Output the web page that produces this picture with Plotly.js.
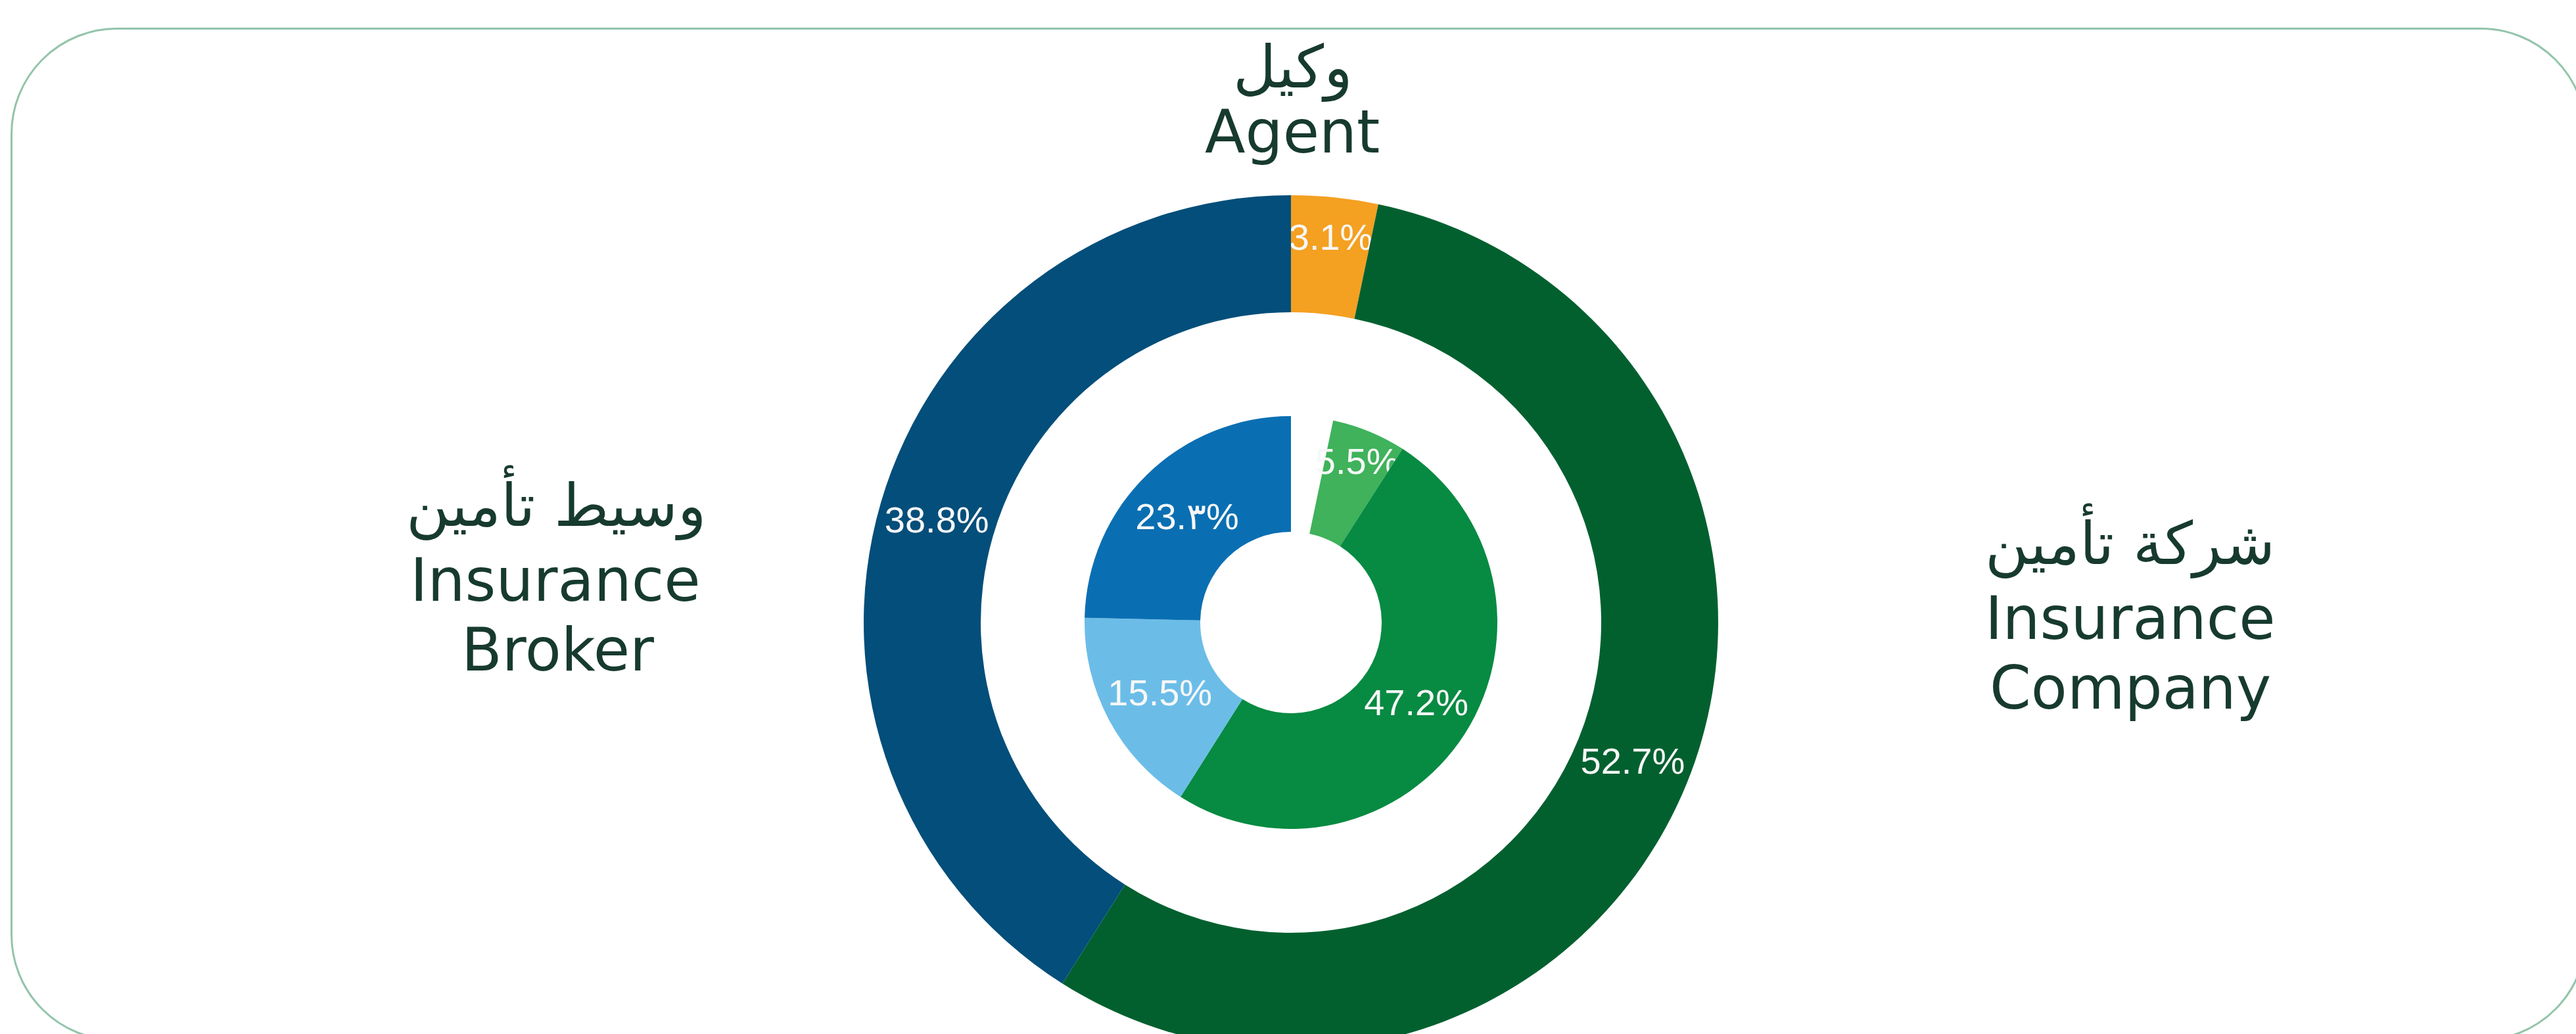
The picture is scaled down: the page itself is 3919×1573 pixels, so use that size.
<!DOCTYPE html>
<html>
<head>
<meta charset="utf-8">
<script src="https://cdn.plot.ly/plotly-3.0.1.min.js"></script>
<style>
  html, body { margin: 0; padding: 0; background: #ffffff; overflow: hidden; width: 3919px; height: 1573px; }
  #frame { position: absolute; left: 16px; top: 42px; width: 3920px; height: 1542px; border: 3px solid #93c4aa; border-radius: 162px; box-sizing: border-box; }
  #chart { position: absolute; left: 0; top: 0; width: 3919px; height: 1700px; }
</style>
</head>
<body>
<div id="frame"></div>
<div id="chart"></div>
<script>
// ---- data ----
const outerCategories = ['وكيل Agent', 'شركة تأمين Insurance Company', 'وسيط تأمين Insurance Broker'];
const outerValues = [3.1, 52.7, 38.8];
const outerText = ['3.1%', '52.7%', '38.8%'];

// inner ring: breakdown of company and broker; the agent share has no breakdown (blank)
const innerCategories = ['وكيل Agent', 'شركة تأمين (1)', 'شركة تأمين (2)', 'وسيط تأمين (1)', 'وسيط تأمين (2)'];
const innerValues = [3.1, 5.5, 47.2, 15.5, 23.3];
const innerText = ['', '5.5%', '47.2%', '15.5%', '23.٣%'];

const groupLabelsTop = ['وكيل', 'Agent'];
const groupLabelsLeft = ['وسيط تأمين', 'Insurance', 'Broker'];
const groupLabelsRight = ['شركة تأمين', 'Insurance', 'Company'];

// ---- styling / layout ----
const W = 3919, H = 1700;
const fx = x => x / W;
const fy = y => 1 - y / H;
const cx = 1964, cy = 947;
const rOuter = 650, rInner = 314;

const outerColors = ['#f4a021', '#02602f', '#034e7a'];
const innerColors = ['rgba(0,0,0,0)', '#3fb25b', '#078a42', '#6bbde8', '#0a6fb2'];

const pctFont = { family: 'Liberation Sans, Arial, sans-serif', size: 56, color: '#f7f7f7' };

const outer = {
  type: 'pie', labels: outerCategories, values: outerValues, text: outerText,
  textinfo: 'text', textposition: 'inside', insidetextorientation: 'horizontal',
  insidetextfont: pctFont, sort: false, direction: 'clockwise', rotation: 0,
  hole: 472 / 650, marker: { colors: outerColors, line: { width: 0 } },
  hoverinfo: 'skip', showlegend: false,
  domain: { x: [fx(cx - rOuter), fx(cx + rOuter)], y: [fy(cy + rOuter), fy(cy - rOuter)] }
};
const inner = {
  type: 'pie', labels: innerCategories, values: innerValues, text: innerText,
  textinfo: 'text', textposition: 'inside', insidetextorientation: 'horizontal',
  insidetextfont: pctFont, sort: false, direction: 'clockwise', rotation: 0,
  hole: 138 / 314, marker: { colors: innerColors, line: { width: 0 } },
  hoverinfo: 'skip', showlegend: false,
  domain: { x: [fx(cx - rInner), fx(cx + rInner)], y: [fy(cy + rInner), fy(cy - rInner)] }
};

const labelFont = { family: 'DejaVu Sans, sans-serif', size: 90, color: '#173a2f' };
function ann(text, x, y) {
  return { text: text, x: fx(x), y: fy(y), xref: 'paper', yref: 'paper', xanchor: 'center', yanchor: 'middle',
           showarrow: false, font: labelFont };
}
const annotations = [
  ann(groupLabelsTop[0], 1967, 102),
  ann(groupLabelsTop[1], 1966, 200),
  ann(groupLabelsLeft[0], 846, 765),
  ann(groupLabelsLeft[1], 845, 882),
  ann(groupLabelsLeft[2], 848, 988),
  ann(groupLabelsRight[0], 3240, 822),
  ann(groupLabelsRight[1], 3241, 940),
  ann(groupLabelsRight[2], 3241, 1046)
];

const layout = {
  width: W, height: H,
  margin: { l: 0, r: 0, t: 0, b: 0 },
  paper_bgcolor: 'rgba(0,0,0,0)', plot_bgcolor: 'rgba(0,0,0,0)',
  uniformtext: { mode: 'show', minsize: 56 },
  annotations: annotations,
  showlegend: false
};

Plotly.newPlot('chart', [outer, inner], layout, { displayModeBar: false, staticPlot: true });
</script>
</body>
</html>
